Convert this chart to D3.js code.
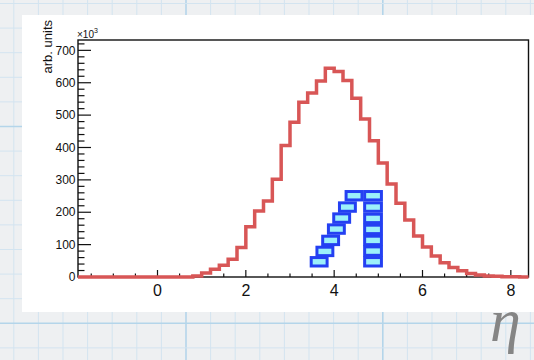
<!DOCTYPE html>
<html><head><meta charset="utf-8">
<script src="https://cdn.jsdelivr.net/npm/d3@7"></script>
<style>
html,body{margin:0;padding:0;background:#eef0f2;}
svg{display:block;}
</style>
</head><body>
<svg id="chart" width="534" height="360"></svg>
<script>
// η distribution: 0.2-wide bins from -1.8 to 8.4, counts in units of 10^3
const binLow = -1.8;
const binWidth = 0.2;
const etaCounts = [0,0,0,0,0,0,0,0,0,0,0,0,0,
  3,12,24,36,55,91,155,204,235,302,
  406,478,540,568,605,645,635,607,552,488,
  421,352,287,228,176,127,93,65,44,29,
  19,11,6,3,2,1,1,0];

// Box points (centre ± half-size), forming the Λ shape
const boxX  = [3.66,3.79,3.92,4.05,4.17,4.30,4.45, 4.88,4.88,4.88,4.88,4.88,4.88,4.88];
const boxY  = [47,79,113,148,182,216,251, 47,80,113,147,181,216,251];
const boxEX = [0.18,0.18,0.18,0.18,0.18,0.18,0.18, 0.19,0.19,0.19,0.19,0.19,0.19,0.19];
const boxEY = [13,13,13,13,13,13,13, 13,13,13,13,13,13,13];

const xTicks = [0,2,4,6,8];
const yTicks = [0,100,200,300,400,500,600,700];

const svg = d3.select("#chart");
const W = 534, H = 360;

// graph-paper backdrop
const paper = svg.append("g");
paper.append("rect").attr("width", W).attr("height", H).attr("fill", "#eef0f2");
const step = 24.6;
d3.range(-1, 23).forEach(k => {
  const x = 186 + (k - 7) * step;
  paper.append("line").attr("x1", x).attr("x2", x).attr("y1", 0).attr("y2", H)
    .attr("stroke", (k % 8 === 7) ? "#b4d5ea" : "#d3e4f0").attr("stroke-width", (k % 8 === 7) ? 1.6 : 1);
});
d3.range(-1, 16).forEach(k => {
  const y = 323.3 - k * step;
  paper.append("line").attr("x1", 0).attr("x2", W).attr("y1", y).attr("y2", y)
    .attr("stroke", (k % 8 === 0) ? "#b4d5ea" : "#d3e4f0").attr("stroke-width", (k % 8 === 0) ? 1.6 : 1);
});

// white canvas panel
svg.append("rect").attr("x", 22).attr("y", 15).attr("width", W - 22).attr("height", 297).attr("fill", "#ffffff");

// frame geometry
const fx0 = 78, fx1 = 528.5, fy0 = 40, fy1 = 277;
const x = d3.scaleLinear().domain([-1.8, 8.4]).range([fx0, fx1]);
const y = d3.scaleLinear().domain([0, 732]).range([fy1, fy0]);

const font = "'Liberation Sans', Arial, Helvetica, sans-serif";
const axes = svg.append("g").attr("fill", "none").attr("stroke", "#111");

// frame
axes.append("rect").attr("x", fx0).attr("y", fy0).attr("width", fx1 - fx0).attr("height", fy1 - fy0)
  .attr("stroke-width", 1.4);

// x ticks (inside, pointing up)
const xMinor = d3.range(-1.5, 8.41, 0.5).filter(v => Math.abs(v / 2 - Math.round(v / 2)) > 1e-6);
xMinor.forEach(v => axes.append("line").attr("x1", x(v)).attr("x2", x(v)).attr("y1", fy1).attr("y2", fy1 - 3.5).attr("stroke-width", 1.2));
xTicks.forEach(v => axes.append("line").attr("x1", x(v)).attr("x2", x(v)).attr("y1", fy1).attr("y2", fy1 - 7).attr("stroke-width", 1.2));

// y ticks (inside, pointing right)
const yMinor = d3.range(20, 731, 20).filter(v => v % 100 !== 0);
yMinor.forEach(v => axes.append("line").attr("x1", fx0).attr("x2", fx0 + 6.5).attr("y1", y(v)).attr("y2", y(v)).attr("stroke-width", 1.2));
yTicks.forEach(v => axes.append("line").attr("x1", fx0).attr("x2", fx0 + 13).attr("y1", y(v)).attr("y2", y(v)).attr("stroke-width", 1.2));

// tick labels
svg.append("g").selectAll("text").data(xTicks).join("text")
  .attr("x", d => x(d)).attr("y", 295.5).attr("text-anchor", "middle")
  .attr("font-family", font).attr("font-size", 16).attr("fill", "#111").text(d => d);
svg.append("g").selectAll("text").data(yTicks).join("text")
  .attr("x", 75.5).attr("y", d => y(d) + 4.2).attr("text-anchor", "end")
  .attr("font-family", font).attr("font-size", 12).attr("fill", "#111").text(d => d);

// exponent label
const expo = svg.append("text").attr("x", 77).attr("y", 38.3)
  .attr("font-family", font).attr("font-size", 10).attr("fill", "#111");
expo.append("tspan").text("×10");
expo.append("tspan").attr("font-size", 7).attr("dy", -5.5).text("3");

// y title
svg.append("text").attr("transform", "translate(52,20) rotate(-90)")
  .attr("text-anchor", "end").attr("font-family", font).attr("font-size", 13).attr("fill", "#111")
  .text("arb. units");

// box points
const boxes = svg.append("g");
boxX.forEach((cx, i) => {
  boxes.append("rect")
    .attr("x", x(cx - boxEX[i])).attr("width", x(cx + boxEX[i]) - x(cx - boxEX[i]))
    .attr("y", y(boxY[i] + boxEY[i])).attr("height", y(boxY[i] - boxEY[i]) - y(boxY[i] + boxEY[i]))
    .attr("fill", "#9cf0fa").attr("stroke", "#2440f2").attr("stroke-width", 3);
});

// histogram outline
const pts = etaCounts.map((v, i) => [binLow + i * binWidth, v]);
pts.push([binLow + etaCounts.length * binWidth, etaCounts[etaCounts.length - 1]]);
const line = d3.line().x(d => x(d[0])).y(d => y(d[1])).curve(d3.curveStepAfter);
svg.append("path").attr("d", line(pts)).attr("fill", "none")
  .attr("stroke", "#d85656").attr("stroke-width", 3.5).attr("stroke-linejoin", "miter");

// η axis label, sitting on the paper below the canvas
svg.append("text").attr("x", 490).attr("y", 341)
  .attr("font-family", "'Liberation Serif', 'DejaVu Serif', serif").attr("font-style", "italic")
  .attr("font-size", 62).attr("fill", "#858585").text("η");
</script>
</body></html>
